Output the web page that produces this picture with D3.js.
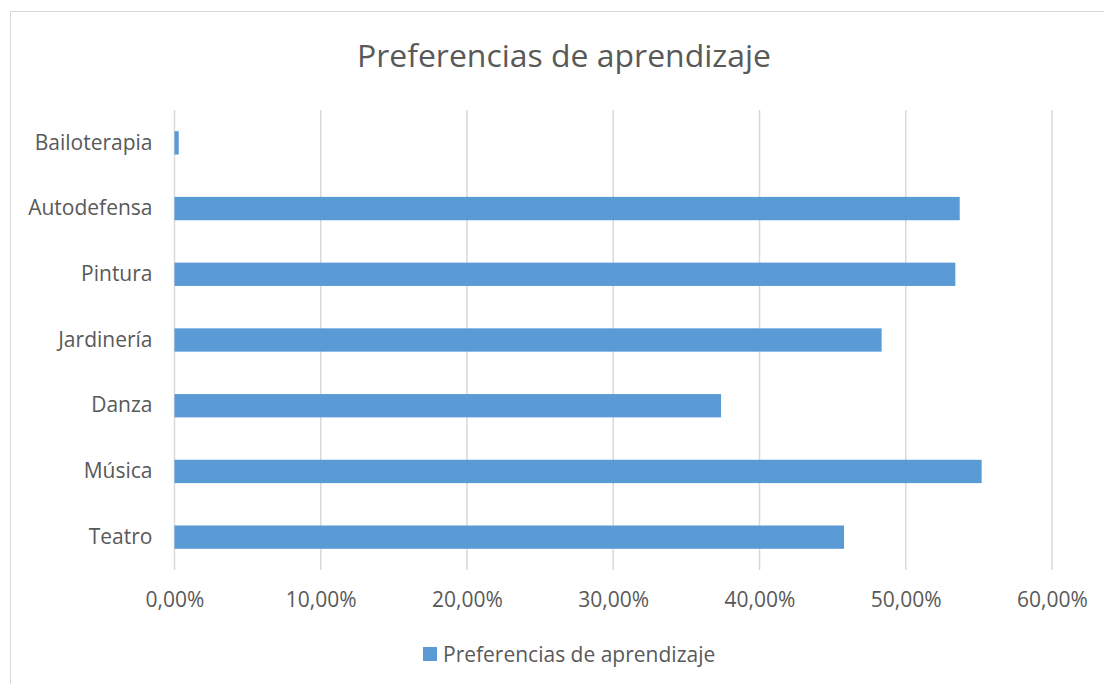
<!DOCTYPE html>
<html>
<head>
<meta charset="utf-8">
<script src="https://cdn.jsdelivr.net/npm/d3@7"></script>
<style>
  body { margin: 0; background: #fff; }
  text { font-family: "Open Sans", "Noto Sans", sans-serif; fill: #595959; }
</style>
</head>
<body>
<div id="chartbox"></div>
<script>
var categories = ["Bailoterapia", "Autodefensa", "Pintura", "Jardinería", "Danza", "Música", "Teatro"];
var values = [0.29, 53.69, 53.39, 48.35, 37.37, 55.19, 45.78];
var tickValues = [0, 10, 20, 30, 40, 50, 60];
var seriesName = "Preferencias de aprendizaje";
var chartTitle = "Preferencias de aprendizaje";

var data = categories.map((c, i) => ({ key: c, value: values[i] }));

var W = 1104, H = 684;
var margin = { top: 110, right: 52, bottom: 114, left: 174.5 },
    width = W - margin.left - margin.right,
    height = H - margin.top - margin.bottom;

var svg = d3.select('#chartbox').append('svg')
    .attr('width', W)
    .attr('height', H);

// outer chart border
svg.append('rect')
    .attr('x', 10.5).attr('y', 11.5)
    .attr('width', W).attr('height', H)
    .attr('fill', 'none')
    .attr('stroke', '#d9d9d9')
    .attr('stroke-width', 1);

svg.append('text')
    .attr('x', 564).attr('y', 67)
    .attr('text-anchor', 'middle')
    .style('font-size', '31px')
    .attr('textLength', 414)
    .attr('lengthAdjust', 'spacingAndGlyphs')
    .text(chartTitle);

var g = svg.append('g')
    .attr('transform', 'translate(' + [margin.left, margin.top] + ')');

var x = d3.scaleLinear().range([0, 877.5]).domain([0, 60]);
var y = d3.scaleBand().range([0, height]).domain(categories).paddingInner(0.645).paddingOuter(0.3225);

// gridlines
g.append('g')
    .selectAll('line')
    .data(tickValues)
    .enter().append('line')
    .attr('x1', d => x(d)).attr('x2', d => x(d))
    .attr('y1', 0).attr('y2', height)
    .attr('stroke', '#d9d9d9')
    .attr('stroke-width', 1.5);

var xAxis = g.append('g')
    .attr('transform', 'translate(0,' + height + ')')
    .call(d3.axisBottom(x).tickValues(tickValues).tickSize(0).tickPadding(22)
      .tickFormat(d => d3.format('.2f')(d).replace('.', ',') + '%'));
xAxis.select('.domain').remove();
xAxis.selectAll('text').style('font-size', '21px').style('fill', '#595959');

var yAxis = g.append('g')
    .call(d3.axisLeft(y).tickSize(0).tickPadding(22));
yAxis.select('.domain').remove();
yAxis.selectAll('text').style('font-size', '21px').style('fill', '#595959');

g.selectAll('rect.bar')
    .data(data)
    .enter().append('rect')
    .attr('class', 'bar')
    .attr('x', x(0))
    .attr('y', d => y(d.key))
    .attr('width', d => x(d.value) - x(0))
    .attr('height', y.bandwidth())
    .style('fill', '#5b9bd5');

// legend
var legend = svg.append('g').attr('transform', 'translate(423,647)');
legend.append('rect')
    .attr('width', 14).attr('height', 14)
    .style('fill', '#5b9bd5');
legend.append('text')
    .attr('x', 20).attr('y', 15)
    .style('font-size', '21px')
    .text(seriesName);
</script>
</body>
</html>
